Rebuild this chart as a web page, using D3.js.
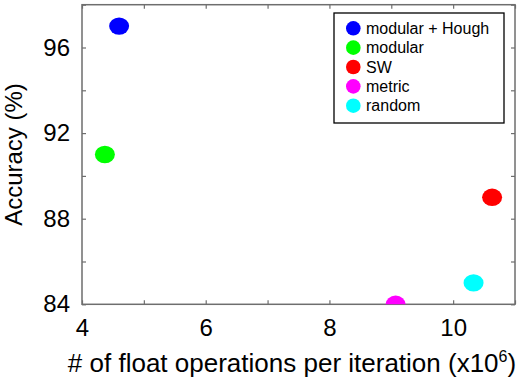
<!DOCTYPE html>
<html>
<head>
<meta charset="utf-8">
<script src="https://cdn.jsdelivr.net/npm/d3@7"></script>
<style>
  body { margin: 0; background: #fff; }
  svg { display: block; font-family: Arial, "Liberation Sans", sans-serif; }
</style>
</head>
<body>
<svg id="chart" width="529" height="380"></svg>
<script>
// data
const methods  = ["modular + Hough", "modular", "SW", "metric", "random"];
const flops    = [4.6, 4.37, 10.63, 9.07, 10.33];   // x10^6 float ops per iteration
const accuracy = [97, 91, 89, 84, 85];               // %
const colors   = ["#0000ff", "#00ff00", "#ff0000", "#ff00ff", "#00ffff"];
const xTickVals = [4, 5, 6, 7, 8, 9, 10, 11];
const xTickLabels = ["4", "", "6", "", "8", "", "10", ""];
const yTickVals = [84, 86, 88, 90, 92, 94, 96, 98];
const yTickLabels = ["84", "", "88", "", "92", "", "96", ""];

const margin = { top: 4.7, right: 14, bottom: 75.7, left: 82 },
    width = 529 - margin.left - margin.right,
    height = 380 - margin.top - margin.bottom;

const axisColor = "#6e6e6e";

const x = d3.scaleLinear().domain([4, 11]).range([0, width]);
const y = d3.scaleLinear().domain([84, 98]).range([height, 0]);

const svg = d3.select("#chart");
const g = svg.append("g")
    .attr("transform", "translate(" + margin.left + "," + margin.top + ")");

// clip markers to the plot box
svg.append("defs").append("clipPath")
    .attr("id", "plot-clip")
  .append("rect")
    .attr("width", width)
    .attr("height", height);

// axes: ticks point inward, mirrored on top/right
function styleAxis(sel) {
    sel.select(".domain").remove();
    sel.selectAll(".tick line").attr("stroke", axisColor).attr("stroke-width", 1.2);
    sel.selectAll(".tick text")
        .attr("fill", "#000")
        .style("font-size", "24px");
}

g.append("g")
    .attr("transform", "translate(0," + height + ")")
    .call(d3.axisBottom(x).tickValues(xTickVals)
        .tickSize(-4).tickPadding(10)
        .tickFormat((d, i) => xTickLabels[i]))
    .call(styleAxis)
    .selectAll(".tick text").attr("dy", "0.9em");

g.append("g")
    .call(d3.axisTop(x).tickValues(xTickVals).tickSize(-4).tickFormat(""))
    .call(styleAxis);

g.append("g")
    .call(d3.axisLeft(y).tickValues(yTickVals)
        .tickSize(-4).tickPadding(12)
        .tickFormat((d, i) => yTickLabels[i]))
    .call(styleAxis);

g.append("g")
    .attr("transform", "translate(" + width + ",0)")
    .call(d3.axisRight(y).tickValues(yTickVals).tickSize(-4).tickFormat(""))
    .call(styleAxis);

// frame
g.append("rect")
    .attr("width", width)
    .attr("height", height)
    .attr("fill", "none")
    .attr("stroke", axisColor)
    .attr("stroke-width", 1.5);

// points
g.append("g")
    .attr("clip-path", "url(#plot-clip)")
  .selectAll("ellipse")
  .data(methods)
  .join("ellipse")
    .attr("cx", (d, i) => x(flops[i]))
    .attr("cy", (d, i) => y(accuracy[i]))
    .attr("rx", 10)
    .attr("ry", 8.7)
    .attr("fill", (d, i) => colors[i]);

// axis titles
const xTitle = svg.append("text")
    .attr("x", 292)
    .attr("y", 372)
    .attr("text-anchor", "middle")
    .style("font-size", "26px");
xTitle.append("tspan").text("# of float operations per iteration (x10");
xTitle.append("tspan")
    .attr("dy", -10)
    .style("font-size", "16px")
    .text("6");
xTitle.append("tspan")
    .attr("dy", 10)
    .text(")");

svg.append("text")
    .attr("transform", "translate(22," + (margin.top + height / 2) + ") rotate(-90)")
    .attr("text-anchor", "middle")
    .style("font-size", "24px")
    .text("Accuracy (%)");

// legend
const legend = svg.append("g").attr("transform", "translate(334,13)");
legend.append("rect")
    .attr("width", 170)
    .attr("height", 110)
    .attr("fill", "#fff")
    .attr("stroke", "#000")
    .attr("stroke-width", 1.3);

const row = legend.selectAll("g.row")
  .data(methods)
  .join("g")
    .attr("class", "row")
    .attr("transform", (d, i) => "translate(0," + (15.3 + i * 19.35) + ")");

row.append("circle")
    .attr("cx", 19.3)
    .attr("r", 7.3)
    .attr("fill", (d, i) => colors[i]);

row.append("text")
    .attr("x", 32)
    .attr("dy", "0.36em")
    .style("font-size", "16px")
    .text(d => d);
</script>
</body>
</html>
